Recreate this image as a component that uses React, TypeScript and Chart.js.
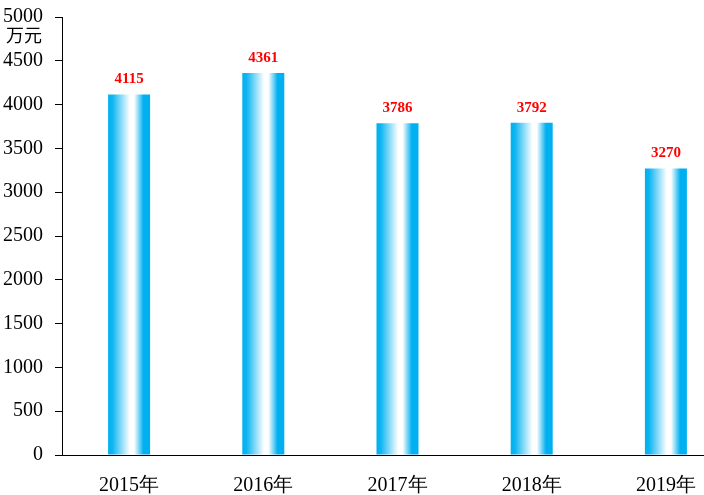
import React, { useEffect, useRef } from "react";
import { Chart, registerables } from "chart.js";

Chart.register(...registerables);

const categories = ["2015年", "2016年", "2017年", "2018年", "2019年"];
const values = [4115, 4361, 3786, 3792, 3270];
const yTicks = [0, 500, 1000, 1500, 2000, 2500, 3000, 3500, 4000, 4500, 5000];
const unitLabel = "万元";

const SERIF = "'Liberation Serif', 'Times New Roman', serif";
const CJK = "'Noto Sans CJK SC', sans-serif";
const BAR_FRACTION = 0.313;

function barGradient(context: any) {
  const chart = context.chart;
  const xs = chart.scales && chart.scales.x;
  if (!xs || context.dataIndex === undefined) return "#00B0F0";
  const center = xs.getPixelForValue(context.dataIndex);
  const catW = (xs.right - xs.left) / categories.length;
  const w = catW * BAR_FRACTION;
  if (!isFinite(center) || !isFinite(w)) return "#00B0F0";
  const left = center - w / 2;
  const right = center + w / 2;
  const g = chart.ctx.createLinearGradient(left, 0, right, 0);
  g.addColorStop(0, "#00B0F0");
  g.addColorStop(0.1, "#0DB5F1");
  g.addColorStop(0.52, "#FFFFFF");
  g.addColorStop(0.62, "#FFFFFF");
  g.addColorStop(0.84, "#00B0F0");
  g.addColorStop(1, "#00B0F0");
  return g;
}

const labelPlugin = {
  id: "valueLabels",
  afterDatasetsDraw(chart: any) {
    const ctx = chart.ctx;
    const meta = chart.getDatasetMeta(0);
    ctx.save();
    ctx.fillStyle = "#FF0000";
    ctx.font = `bold 15px ${SERIF}`;
    ctx.textAlign = "center";
    ctx.textBaseline = "middle";
    meta.data.forEach((el: any, i: number) => {
      ctx.fillText(String(values[i]), el.x, el.y - 15);
    });
    ctx.font = `18px ${CJK}`;
    ctx.fillStyle = "#000000";
    ctx.textAlign = "center";
    ctx.fillText(unitLabel, 24, 35);
    ctx.restore();
  },
};

export default function App() {
  const ref = useRef<HTMLCanvasElement | null>(null);
  useEffect(() => {
    if (!ref.current) return;
    const chart = new Chart(ref.current, {
      type: "bar",
      data: {
        labels: categories,
        datasets: [
          {
            data: values,
            backgroundColor: barGradient,
            borderWidth: 0,
            categoryPercentage: 1,
            barPercentage: BAR_FRACTION,
          },
        ],
      },
      options: {
        responsive: false,
        animation: false,
        devicePixelRatio: 1,
        layout: { padding: { top: 17, right: 0, left: 0, bottom: 0 } },
        plugins: { legend: { display: false }, tooltip: { enabled: false } },
        scales: {
          x: {
            grid: { display: false },
            border: { display: true, color: "#000000", width: 1 },
            ticks: {
              color: "#000000",
              font: { family: SERIF, size: 20 },
              padding: 11,
              maxRotation: 0,
            },
            afterFit: (s: any) => {
              s.height = 40;
            },
          },
          y: {
            min: 0,
            max: 5000,
            afterBuildTicks: (s: any) => {
              s.ticks = yTicks.map((v) => ({ value: v }));
            },
            grid: {
              display: true,
              drawOnChartArea: false,
              drawTicks: true,
              tickLength: 7,
              color: "#000000",
            },
            border: { display: true, color: "#000000", width: 1 },
            ticks: {
              color: "#000000",
              font: { family: SERIF, size: 20, lineHeight: 0.5 },
              padding: 12,
              callback: (v: any) => String(v),
            },
            afterFit: (s: any) => {
              s.width = 62;
            },
          },
        },
      },
      plugins: [labelPlugin],
    });
    return () => chart.destroy();
  }, []);
  return (
    <div
      style={{
        position: "fixed",
        left: 0,
        top: 0,
        width: 704,
        height: 495,
        overflow: "hidden",
        background: "#fff",
      }}
    >
      <canvas ref={ref} width={733} height={495} style={{ display: "block" }} />
    </div>
  );
}
